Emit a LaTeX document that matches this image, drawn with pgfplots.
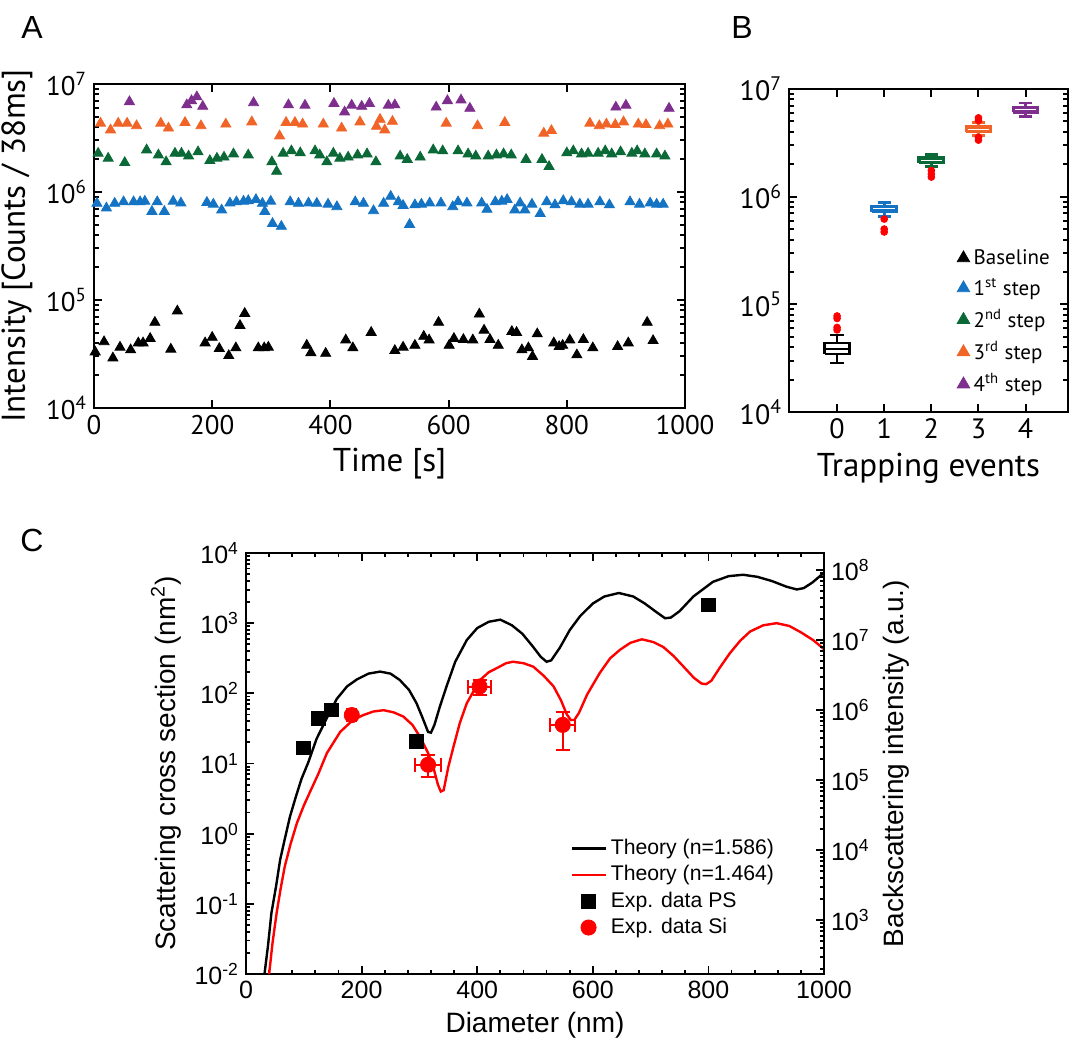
\documentclass[border=0pt]{standalone}
\usepackage{fontspec}
\setmainfont{PT Sans}
\newfontfamily\arialf{Liberation Sans}
\usepackage{pgfplots}
\pgfplotsset{compat=1.18}

\definecolor{cblue}{RGB}{20,115,195}
\definecolor{cgreen}{RGB}{10,105,55}
\definecolor{corange}{RGB}{240,100,40}
\definecolor{cpurple}{RGB}{126,47,142}

\pgfplotsset{
  tri/.style={only marks, mark=triangle*, mark size=2.9pt, color=#1,
    mark options={solid, fill=#1, draw=#1}},
  outl/.style={only marks, mark=*, mark size=1.7pt, red, mark options={fill=red}},
}

\begin{document}
\begin{tikzpicture}
\useasboundingbox (0pt,0pt) rectangle (534.5pt,530pt);

\node[font=\arialf\fontsize{16}{18}\selectfont] at (16pt,516pt) {A};
\node[font=\arialf\fontsize{16}{18}\selectfont] at (371pt,516pt) {B};
\node[font=\arialf\fontsize{16}{18}\selectfont] at (16pt,260pt) {C};

% ---------------- panel A
\begin{axis}[
  at={(47pt,326pt)}, anchor=south west, scale only axis, width=295.5pt, height=162pt,
  xmin=0, xmax=1000,
  xtick={0,200,400,600,800,1000},
  xticklabels={0,200,400,600,800,1000},
  ymode=log, ymin=1e4, ymax=1e7,
  ytick={1e4,1e5,1e6,1e7},
  yticklabels={10\textsuperscript{4},10\textsuperscript{5},10\textsuperscript{6},10\textsuperscript{7}},
  minor ytick={2e4,3e4,4e4,5e4,6e4,7e4,8e4,9e4,
    2e5,3e5,4e5,5e5,6e5,7e5,8e5,9e5,2e6,3e6,4e6,5e6,6e6,7e6,8e6,9e6},
  axis line style={line width=1.4pt},
  every tick/.style={black, line width=1pt},
  major tick length=4pt, minor tick length=2.5pt,
  tick label style={font=\fontsize{13.5}{15}\selectfont},
  label style={font=\fontsize{16.5}{19}\selectfont},
  xlabel={Time [s]},
  ylabel={Intensity [Counts / 38ms]},
]
\addplot[tri=black] coordinates {
(2,3.3e4)(17,4.1e4)(32,2.9e4)(44,3.65e4)(62,3.45e4)(75,4.0e4)(83,4.0e4)(95,4.4e4)
(103,6.2e4)(130,3.5e4)(141,7.9e4)(188,4.0e4)(200,4.5e4)(212,3.55e4)(228,3.05e4)
(240,3.6e4)(247,5.8e4)(255,7.5e4)(278,3.6e4)(288,3.6e4)(295,3.65e4)(360,3.8e4)
(367,3.25e4)(392,3.2e4)(426,4.26e4)(438,3.6e4)(469,5.0e4)(509,3.4e4)(523,3.65e4)
(543,3.8e4)(558,4.6e4)(567,4.26e4)(583,6.2e4)(601,3.8e4)(609,4.4e4)(625,4.3e4)
(641,4.26e4)(652,7.4e4)(660,5.25e4)(670,4.3e4)(684,3.8e4)(707,5.1e4)(715,5.0e4)
(724,3.45e4)(735,3.6e4)(742,3.0e4)(750,4.85e4)(778,4.0e4)(787,3.7e4)(793,3.8e4)
(805,4.26e4)(817,3.1e4)(828,4.3e4)(844,3.6e4)(886,3.7e4)(904,4.0e4)(936,6.2e4)
(946,4.2e4)
};
\addplot[tri=cblue] coordinates {
(5,7.85e5)(21,7.1e5)(35,7.85e5)(50,8.1e5)(67,8.1e5)(78,8.1e5)(86,8.2e5)(98,6.6e5)
(107,8.1e5)(119,6.6e5)(134,8.2e5)(147,7.9e5)(191,8.0e5)(202,7.7e5)(216,6.8e5)
(230,7.9e5)(241,8.1e5)(253,8.2e5)(261,8.3e5)(274,8.5e5)(285,7.85e5)(289,6.6e5)
(299,8.2e5)(302,5.1e5)(317,4.8e5)(332,8.1e5)(346,7.85e5)(363,7.9e5)(377,7.85e5)
(396,7.7e5)(411,7.3e5)(442,8.1e5)(456,7.85e5)(473,6.7e5)(490,7.85e5)(502,9.1e5)
(515,8.1e5)(523,7.5e5)(534,5.0e5)(543,7.6e5)(554,7.7e5)(568,7.9e5)(587,7.9e5)
(607,7.3e5)(616,8.1e5)(631,7.9e5)(656,7.9e5)(665,6.9e5)(679,8.1e5)(690,8.2e5)
(699,8.5e5)(712,6.8e5)(721,7.9e5)(729,6.8e5)(741,7.7e5)(755,6.3e5)(766,8.1e5)
(780,7.6e5)(794,8.3e5)(808,8.1e5)(822,7.7e5)(836,7.7e5)(856,8.1e5)(872,7.6e5)
(907,8.1e5)(923,7.7e5)(941,7.9e5)(952,7.7e5)(963,7.7e5)
};
\addplot[tri=cgreen] coordinates {
(7,2.28e6)(24,2.05e6)(52,1.87e6)(89,2.45e6)(109,2.2e6)(122,1.9e6)(137,2.28e6)
(148,2.28e6)(160,2.15e6)(176,2.35e6)(196,1.95e6)(208,2.05e6)(220,2.1e6)(236,2.25e6)
(261,2.2e6)(301,1.9e6)(309,1.55e6)(320,2.28e6)(334,2.4e6)(349,2.3e6)(374,2.4e6)
(382,2.2e6)(394,1.9e6)(405,2.28e6)(416,2.05e6)(430,2.1e6)(446,2.2e6)(462,2.25e6)
(477,1.9e6)(518,2.15e6)(530,2.0e6)(552,2.1e6)(574,2.45e6)(590,2.4e6)(616,2.4e6)
(633,2.25e6)(646,2.15e6)(667,2.15e6)(681,2.2e6)(693,2.25e6)(706,2.2e6)(731,2.0e6)
(758,2.0e6)(770,1.72e6)(800,2.3e6)(811,2.4e6)(825,2.25e6)(836,2.28e6)(853,2.28e6)
(865,2.4e6)(876,2.25e6)(891,2.35e6)(910,2.28e6)(919,2.4e6)(932,2.25e6)(952,2.25e6)
(966,2.15e6)
};
\addplot[tri=corange] coordinates {
(11,4.33e6)(28,3.75e6)(41,4.33e6)(56,4.33e6)(72,4.1e6)(113,4.33e6)(126,3.9e6)
(154,4.4e6)(181,4.1e6)(223,4.25e6)(267,4.45e6)(314,3.3e6)(325,4.4e6)(340,4.4e6)
(353,4.25e6)(388,4.25e6)(419,3.9e6)(450,4.45e6)(478,4.05e6)(484,4.7e6)(492,3.75e6)
(505,4.5e6)(596,4.33e6)(649,4.1e6)(695,4.4e6)(761,3.5e6)(774,3.7e6)(839,4.33e6)
(855,4.1e6)(867,4.25e6)(882,4.2e6)(896,4.45e6)(921,4.25e6)(934,4.2e6)(957,4.1e6)
(971,4.25e6)
};
\addplot[tri=cpurple] coordinates {
(60,6.85e6)(157,6.4e6)(165,7.0e6)(174,7.6e6)(184,6.2e6)(270,6.7e6)(329,6.4e6)
(357,6.35e6)(406,6.6e6)(424,5.5e6)(436,6.35e6)(453,6.2e6)(466,6.6e6)(498,6.35e6)
(509,6.4e6)(579,6.1e6)(598,7.0e6)(621,7.1e6)(636,5.95e6)(883,6.1e6)(900,6.35e6)
(973,5.95e6)
};
\end{axis}

% ---------------- panel B (y in log10 units, labelled as powers of ten)
\begin{axis}[
  at={(394.5pt,324pt)}, anchor=south west, scale only axis, width=139.5pt, height=161.5pt,
  xmin=-1.02, xmax=4.9,
  xtick={0,1,2,3,4}, xticklabels={0,1,2,3,4},
  ymin=4, ymax=7,
  ytick={4,5,6,7},
  yticklabels={10\textsuperscript{4},10\textsuperscript{5},10\textsuperscript{6},10\textsuperscript{7}},
  minor ytick={4.30103,4.47712,4.60206,4.69897,4.77815,4.84510,4.90309,4.95424,
    5.30103,5.47712,5.60206,5.69897,5.77815,5.84510,5.90309,5.95424,
    6.30103,6.47712,6.60206,6.69897,6.77815,6.84510,6.90309,6.95424},
  axis line style={line width=1.4pt},
  every tick/.style={black, line width=1pt},
  major tick length=4pt, minor tick length=2.5pt,
  tick label style={font=\fontsize{14}{16}\selectfont},
  label style={font=\fontsize{16.5}{19}\selectfont},
  xlabel={Trapping events},
  unbounded coords=jump,
  legend style={draw=none, fill=none, at={(0.58,0.53)}, anchor=north west,
    font=\fontsize{10.5}{12}\selectfont, row sep=1.5pt},
  legend cell align=left,
]
\addlegendimage{only marks, mark=triangle*, mark size=3.6pt, black}
\addlegendentry{Baseline}
\addlegendimage{only marks, mark=triangle*, mark size=3.6pt, cblue}
\addlegendentry{1\textsuperscript{st} step}
\addlegendimage{only marks, mark=triangle*, mark size=3.6pt, cgreen}
\addlegendentry{2\textsuperscript{nd} step}
\addlegendimage{only marks, mark=triangle*, mark size=3.6pt, corange}
\addlegendentry{3\textsuperscript{rd} step}
\addlegendimage{only marks, mark=triangle*, mark size=3.6pt, cpurple}
\addlegendentry{4\textsuperscript{th} step}
% box 0
\addplot[black, line width=1.2pt] coordinates {
  (-0.14,4.456)(0.14,4.456)(0,nan)(0,4.456)(0,4.716)(0,nan)(-0.14,4.716)(0.14,4.716)};
\addplot[black, line width=1.2pt, fill=white] coordinates {
  (-0.265,4.539)(0.265,4.539)(0.265,4.643)(-0.265,4.643)(-0.265,4.539)};
\addplot[black, line width=0.8pt] coordinates {(-0.265,4.587)(0.265,4.587)};
\addplot[outl] coordinates {(0,4.763)(0,4.785)(0,4.869)(0,4.892)};
% box 1
\addplot[cblue, line width=1.4pt] coordinates {
  (0.86,5.813)(1.14,5.813)(1,nan)(1,5.813)(1,5.949)(1,nan)(0.86,5.949)(1.14,5.949)};
\addplot[outl] coordinates {(1,5.792)(1,5.699)(1,5.672)};
\addplot[cblue, line width=1.4pt, fill=cblue] coordinates {
  (0.735,5.857)(1.265,5.857)(1.265,5.914)(0.735,5.914)(0.735,5.857)};
\addplot[white, line width=0.4pt] coordinates {(0.77,5.895)(1.23,5.895)};
% box 2
\addplot[cgreen, line width=1.4pt] coordinates {
  (1.86,6.279)(2.14,6.279)(2,nan)(2,6.279)(2,6.389)(2,nan)(1.86,6.389)(2.14,6.389)};
\addplot[outl] coordinates {(2,6.243)(2,6.210)(2,6.182)};
\addplot[cgreen, line width=1.4pt, fill=cgreen] coordinates {
  (1.735,6.312)(2.265,6.312)(2.265,6.362)(1.735,6.362)(1.735,6.312)};
\addplot[white, line width=0.4pt] coordinates {(1.77,6.338)(2.23,6.338)};
% box 3
\addplot[corange, line width=1.4pt] coordinates {
  (2.86,6.568)(3.14,6.568)(3,nan)(3,6.568)(3,6.690)(3,nan)(2.86,6.690)(3.14,6.690)};
\addplot[outl] coordinates {(3,6.732)(3,6.708)(3,6.550)(3,6.525)};
\addplot[corange, line width=1.4pt, fill=corange] coordinates {
  (2.735,6.602)(3.265,6.602)(3.265,6.653)(2.735,6.653)(2.735,6.602)};
\addplot[white, line width=0.4pt] coordinates {(2.77,6.628)(3.23,6.628)};
% box 4
\addplot[cpurple, line width=1.4pt] coordinates {
  (3.86,6.748)(4.14,6.748)(4,nan)(4,6.748)(4,6.869)(4,nan)(3.86,6.869)(4.14,6.869)};
\addplot[cpurple, line width=1.4pt, fill=cpurple] coordinates {
  (3.735,6.785)(4.265,6.785)(4.265,6.833)(3.735,6.833)(3.735,6.785)};
\addplot[white, line width=0.4pt] coordinates {(3.77,6.810)(4.23,6.810)};
\end{axis}

% ---------------- panel C (left axis)
\begin{axis}[
  at={(123pt,43pt)}, anchor=south west, scale only axis, width=289pt, height=210.5pt,
  xmin=0, xmax=1000, xtick={0,200,400,600,800,1000},
  xticklabels={0,200,400,600,800,1000}, minor x tick num=4,
  ymode=log, ymin=1e-2, ymax=1e4, ytick pos=left,
  ytick={1e-2,1e-1,1e0,1e1,1e2,1e3,1e4},
  yticklabels={10\textsuperscript{-2},10\textsuperscript{-1},10\textsuperscript{0},10\textsuperscript{1},10\textsuperscript{2},10\textsuperscript{3},10\textsuperscript{4}},
  minor ytick={2e-2,3e-2,4e-2,5e-2,6e-2,7e-2,8e-2,9e-2,2e-1,3e-1,4e-1,5e-1,6e-1,7e-1,8e-1,9e-1,
    2,3,4,5,6,7,8,9,20,30,40,50,60,70,80,90,200,300,400,500,600,700,800,900,
    2000,3000,4000,5000,6000,7000,8000,9000},
  axis line style={line width=1.2pt},
  every tick/.style={black, line width=0.9pt},
  major tick length=4pt, minor tick length=2.2pt,
  tick label style={font=\arialf\fontsize{12.5}{14}\selectfont},
  label style={font=\arialf\fontsize{14}{16}\selectfont},
  xlabel={Diameter (nm)},
  ylabel={Scattering cross section (nm\textsuperscript{2})},
  legend style={draw=none, fill=none, at={(0.55,0.34)}, anchor=north west,
    font=\arialf\fontsize{10.6}{12}\selectfont, row sep=0pt},
  legend cell align=left,
]
\addplot[black, line width=1.2pt] coordinates {
(32,0.01)(38,0.0251)(44,0.0741)(52,0.178)(59,0.422)(67,0.832)(76,1.74)(86,3.31)
(96,6.03)(108,10.5)(122,22.4)(140,44.7)(157,83.2)(175,126)(192,158)(212,191)
(232,204)(250,191)(266,155)(282,112)(295,72.4)(305,45.7)(315,28.2)(320,27.5)
(326,35.5)(335,63.1)(347,126)(362,282)(382,575)(400,851)(420,1047)(440,1122)
(460,933)(478,708)(495,479)(510,331)(520,282)(528,295)(543,447)(560,794)
(578,1259)(600,1905)(620,2399)(645,2692)(670,2399)(690,1905)(708,1479)(725,1175)
(735,1202)(750,1479)(774,2399)(808,3890)(835,4677)(860,4898)(885,4571)(910,3981)
(935,3311)(953,3020)(965,3162)(980,3802)(1000,5248)
};
\addlegendentry{Theory (n=1.586)}
\addplot[red, line width=1.2pt] coordinates {
(40,0.01)(46,0.0282)(53,0.0741)(60,0.166)(67,0.339)(77,0.708)(88,1.41)(100,2.51)
(111,3.98)(125,7.08)(140,14.1)(163,28.2)(185,41.7)(203,49.0)(220,55.0)(238,57.5)
(255,53.7)(272,46.8)(288,35.5)(301,24.0)(315,14.1)(324,8.91)(332,5.01)(337,3.98)
(342,4.17)(350,8.91)(359,17.4)(370,38.0)(382,72.4)(395,112)(405,155)(420,200)
(434,229)(450,269)(462,282)(480,269)(497,240)(515,178)(532,126)(545,79.4)
(555,50.1)(562,41.7)(568,41.7)(576,52.5)(590,95.5)(612,195)(630,316)(647,417)
(665,525)(685,589)(705,537)(722,457)(740,339)(757,240)(775,166)(788,138)(796,135)
(805,151)(820,234)(837,372)(855,562)(872,759)(895,933)(918,1000)(940,912)
(960,741)(981,575)(1000,427)
};
\addlegendentry{Theory (n=1.464)}
\addplot[only marks, mark=square*, mark size=3.4pt, black] coordinates {
(99,16.6)(125,44)(148,58)(295,20.5)(800,1820)
};
\addlegendentry{Exp. data PS}
\addplot[only marks, mark=*, mark size=3.8pt, red,
  error bars/.cd, x dir=both, x explicit, y dir=both, y explicit,
  error bar style={red, line width=1pt},
  error mark options={rotate=90, red, mark size=3.5pt, line width=1pt}]
coordinates {
(183,49) += (8,4) -= (8,4)
(315,9.6) += (23,3.6) -= (23,3.1)
(404,125) += (20,30) -= (20,29)
(548,35.5) += (22,19.5) -= (22,20)
};
\addlegendentry{Exp. data Si}
\end{axis}

% ---------------- panel C (right axis)
\begin{axis}[
  at={(123pt,43pt)}, anchor=south west, scale only axis, width=289pt, height=210.5pt,
  xmin=0, xmax=1000, axis x line=none, axis y line*=right,
  ymode=log, ymin=170, ymax=1.75e8,
  ytick={1e3,1e4,1e5,1e6,1e7,1e8},
  yticklabels={10\textsuperscript{3},10\textsuperscript{4},10\textsuperscript{5},10\textsuperscript{6},10\textsuperscript{7},10\textsuperscript{8}},
  minor ytick={200,300,400,500,600,700,800,900,2e3,3e3,4e3,5e3,6e3,7e3,8e3,9e3,
    2e4,3e4,4e4,5e4,6e4,7e4,8e4,9e4,2e5,3e5,4e5,5e5,6e5,7e5,8e5,9e5,
    2e6,3e6,4e6,5e6,6e6,7e6,8e6,9e6,2e7,3e7,4e7,5e7,6e7,7e7,8e7,9e7},
  axis line style={line width=1.2pt},
  every tick/.style={black, line width=0.9pt},
  major tick length=4pt, minor tick length=2.2pt,
  tick label style={font=\arialf\fontsize{12.5}{14}\selectfont},
  label style={font=\arialf\fontsize{14}{16}\selectfont},
  ylabel={Backscattering intensity (a.u.)},
]
\end{axis}
\end{tikzpicture}
\end{document}
